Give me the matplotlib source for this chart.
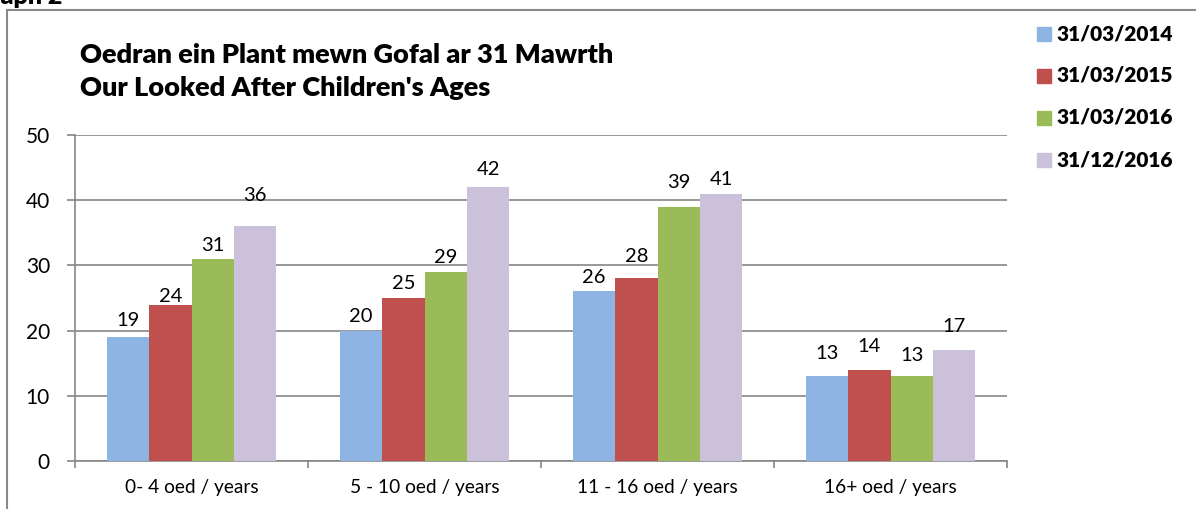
import matplotlib
matplotlib.use("Agg")
import matplotlib.pyplot as plt
from matplotlib.lines import Line2D
from matplotlib.patches import Rectangle
import numpy as np

categories = ["0- 4 oed / years", "5 - 10 oed / years", "11 - 16 oed / years", "16+ oed / years"]
series_names = ["31/03/2014", "31/03/2015", "31/03/2016", "31/12/2016"]
v2014 = [19, 20, 26, 13]
v2015 = [24, 25, 28, 14]
v2016a = [31, 29, 39, 13]
v2016b = [36, 42, 41, 17]
yticks = [0, 10, 20, 30, 40, 50]
title_lines = ["Oedran ein Plant mewn Gofal ar 31 Mawrth", "Our Looked After Children's Ages"]

colors = ["#8EB4E3", "#C0504D", "#9BBB59", "#CCC1DA"]
series = [v2014, v2015, v2016a, v2016b]
# label gap above bar top (pixels), as placed in the original
label_gaps = [[17.7, 16, 15, 24.6],
              [9.7, 15.6, 23.7, 24.7],
              [14.7, 16, 26, 22],
              [32.3, 19, 15.6, 25.6]]

plt.rcParams['font.family'] = ['Lato', 'DejaVu Sans']

W, H = 1196, 509
fig = plt.figure(figsize=(W / 100, H / 100), dpi=100)
renderer = fig.canvas.get_renderer()

def fx(px):
    return px / W

def fy(py):
    return 1 - py / H

def fit_width(t, target_px):
    bb = t.get_window_extent(renderer=renderer)
    t.set_fontsize(t.get_fontsize() * target_px / bb.width)

ax_left, ax_right, ax_top, ax_bot = 75, 1007, 135, 461
ax = fig.add_axes([fx(ax_left), fy(ax_bot), fx(ax_right - ax_left), (ax_bot - ax_top) / H])

n = len(series)
bw = 1 / (n + 1.5)
x = np.arange(len(categories))
for i, (vals, col) in enumerate(zip(series, colors)):
    pos = x - (n * bw) / 2 + bw * (i + 0.5)
    ax.bar(pos, vals, width=bw, color=col, zorder=3, label=series_names[i])
    for j, (p, v) in enumerate(zip(pos, vals)):
        ax.annotate(str(v), (p, v), xytext=(0, label_gaps[i][j] * 0.72), textcoords='offset points',
                    ha='center', va='center_baseline', fontsize=14.5, color='black', zorder=4)

ax.set_xlim(-0.5, len(categories) - 0.5)
ax.set_ylim(0, 50)
ax.set_yticks(yticks)
ax.yaxis.grid(True, color='#868686', linewidth=1.2, zorder=0)
ax.set_axisbelow(True)
for s in ['top', 'right']:
    ax.spines[s].set_visible(False)
for s in ['left', 'bottom']:
    ax.spines[s].set_color('#868686')
    ax.spines[s].set_linewidth(1.2)
ax.tick_params(axis='y', length=6, width=1.2, color='#868686', pad=12, labelsize=15)
ax.set_xticks(np.arange(len(categories) + 1) - 0.5, minor=False)
ax.set_xticklabels([])
ax.set_xticks(x, minor=True)
ax.set_xticklabels(categories, minor=True)
ax.tick_params(axis='x', which='major', length=5, width=1.2, color='#868686')
ax.tick_params(axis='x', which='minor', length=0, pad=13, labelsize=13.8)

# titles
t1 = fig.text(fx(80), fy(63), title_lines[0], fontsize=19, fontweight='heavy', va='baseline', ha='left')
fit_width(t1, 533)
t2 = fig.text(fx(80), fy(96), title_lines[1], fontsize=t1.get_fontsize(), fontweight='heavy',
              va='baseline', ha='left')

# legend (drawn manually to match row placement)
row_y = [34, 75.5, 117.5, 159.5]
for name, col, yy in zip(series_names, colors, row_y):
    fig.add_artist(Rectangle((fx(1037), fy(yy + 7)), fx(14), 14 / H, color=col,
                             transform=fig.transFigure))
    t = fig.text(fx(1056.5), fy(yy), name, fontsize=15, fontweight='heavy', va='center', ha='left')
    fit_width(t, 116.5)

# frame border
fig.add_artist(Line2D([fx(7), fx(7)], [fy(10), 0], color='#898989', lw=1.5, transform=fig.transFigure))
fig.add_artist(Line2D([fx(7), 1], [fy(10), fy(10)], color='#898989', lw=1.5, transform=fig.transFigure))

fig.text(fx(62), fy(4), "Graph 2", fontsize=18, fontweight='heavy', ha='right', va='baseline')

fig.savefig("out.png", dpi=100)
